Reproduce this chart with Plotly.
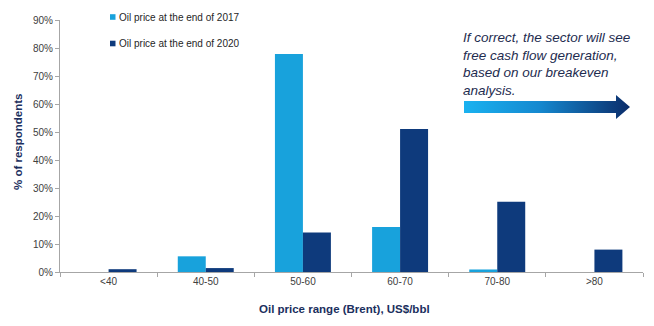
import plotly.graph_objects as go

categories = ["<40", "40-50", "50-60", "60-70", "70-80", ">80"]
series_names = ["Oil price at the end of 2017", "Oil price at the end of 2020"]
values_2017 = [0.0, 0.056, 0.779, 0.161, 0.009, 0.0]
values_2020 = [0.010, 0.014, 0.141, 0.511, 0.251, 0.080]
colors = ["#18a2dc", "#0e3a7c"]

W, H = 654, 326
L, R, T, B = 60, 11, 20, 54
PW, PH = W - L - R, H - T - B


def px(x):
    return (x - L) / PW


def py(y):
    return (H - B - y) / PH


fig = go.Figure()
for name, vals, col in zip(series_names, [values_2017, values_2020], colors):
    fig.add_trace(go.Bar(x=categories, y=vals, name=name, marker_color=col,
                         marker_line_width=0, showlegend=False, hoverinfo="skip"))

# decorative gradient arrow (pixel-space overlay axes)
ax = [464, 616, 616, 630, 616, 616, 464, 464]
ay = [101, 101, 95, 107, 119, 113, 113, 101]
fig.add_trace(go.Scatter(
    x=ax, y=ay, xaxis="x2", yaxis="y2", mode="lines", fill="toself",
    line=dict(width=0), showlegend=False, hoverinfo="skip",
    fillgradient=dict(type="horizontal",
                      colorscale=[[0, "#1ab2f0"], [0.45, "#1589d0"], [1, "#0b2c6a"]]),
))

font = "Liberation Sans, Arial, sans-serif"
navy = "#1b2f5e"

annotations = []
shapes = []
for i, (name, col) in enumerate(zip(series_names, colors)):
    yc = 17 + i * 26.5
    shapes.append(dict(type="rect", xref="paper", yref="paper",
                       x0=px(110), x1=px(115.5), y0=py(yc - 2.8), y1=py(yc + 2.8),
                       fillcolor=col, line_width=0))
    annotations.append(dict(text=name, xref="paper", yref="paper", x=px(117), y=py(yc),
                            xanchor="left", yanchor="middle", showarrow=False,
                            font=dict(family=font, size=10, color="#262626")))

annotations.append(dict(
    text="<i>If correct, the sector will see<br>free cash flow generation,<br>based on our breakeven<br>analysis.</i>",
    xref="paper", yref="paper", x=px(461), y=py(28), xanchor="left", yanchor="top",
    align="left", showarrow=False, font=dict(family=font, size=13.5, color="#1e2c4f")))

annotations.append(dict(text="<b>% of respondents</b>", xref="paper", yref="paper",
                        x=px(18), y=py(142), xanchor="center", yanchor="middle",
                        textangle=-90, showarrow=False,
                        font=dict(family=font, size=11.5, color=navy)))
annotations.append(dict(text="<b>Oil price range (Brent), US$/bbl</b>", xref="paper", yref="paper",
                        x=px(344), y=py(309), xanchor="center", yanchor="middle",
                        showarrow=False, font=dict(family=font, size=11.5, color=navy)))

fig.update_layout(
    width=W, height=H,
    margin=dict(l=L, r=R, t=T, b=B, pad=0),
    paper_bgcolor="white", plot_bgcolor="white",
    barmode="group", bargap=0.424, bargroupgap=0,
    font=dict(family=font, size=10, color="#404040"),
    xaxis=dict(type="category", showline=True, linecolor="#a6a6a6", linewidth=1,
               ticks="outside", tickson="boundaries", ticklen=4, tickcolor="#a6a6a6",
               showgrid=False, tickfont=dict(size=10, color="#404040"), fixedrange=True),
    yaxis=dict(range=[0, 0.9], dtick=0.1, tickformat=".0%", showline=True,
               linecolor="#a6a6a6", linewidth=1, ticks="outside", ticklen=4,
               tickcolor="#a6a6a6", showgrid=False, zeroline=False,
               tickfont=dict(size=10, color="#404040"), fixedrange=True),
    xaxis2=dict(range=[L, W - R], overlaying="x", anchor="y2", visible=False, fixedrange=True),
    yaxis2=dict(range=[H - B, T], overlaying="y", anchor="x2", visible=False, fixedrange=True),
    annotations=annotations,
    shapes=shapes,
)

fig.write_html("out.html")
